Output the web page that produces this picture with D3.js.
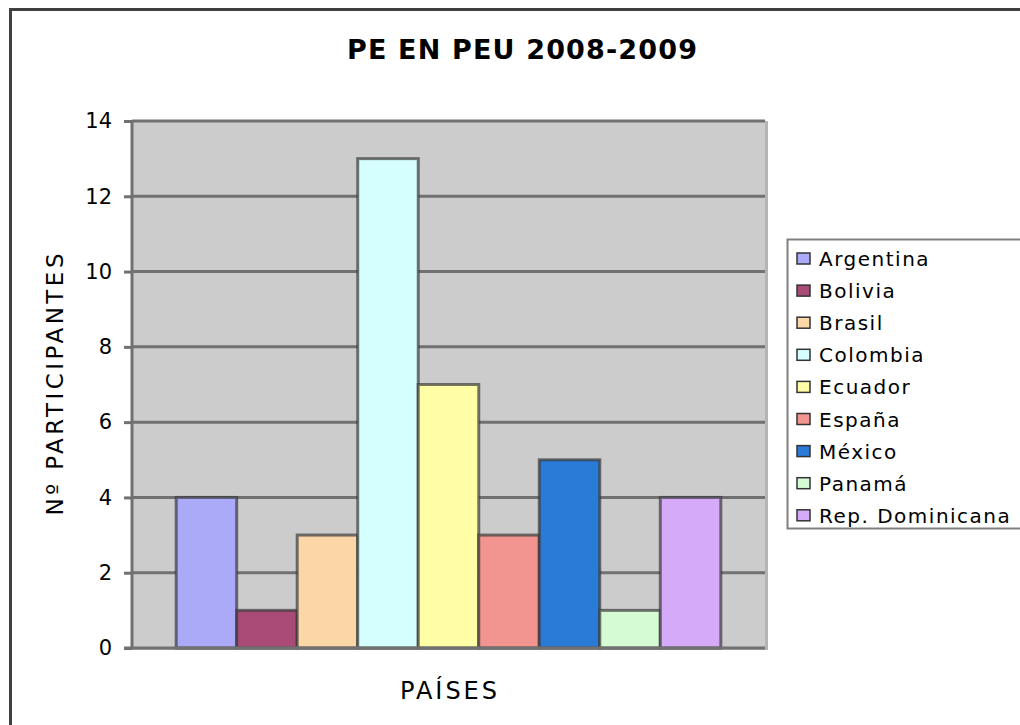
<!DOCTYPE html>
<html>
<head>
<meta charset="utf-8">
<script src="https://cdn.jsdelivr.net/npm/d3@7"></script>
<style>
  body { margin: 0; background: #fff; }
  text { font-family: "DejaVu Sans", Verdana, sans-serif; fill: #000; }
</style>
</head>
<body>
<div id="chart"></div>
<script>
  // data
  const countries = ['Argentina', 'Bolivia', 'Brasil', 'Colombia', 'Ecuador', 'España', 'México', 'Panamá', 'Rep. Dominicana'];
  const participants = [4, 1, 3, 13, 7, 3, 5, 1, 4];
  const colors = ['#aaaaf8', '#a94a77', '#fbd7a7', '#d5ffff', '#fffea6', '#f29590', '#2a7ad8', '#d4fbd4', '#d5aaf8'];
  const yTicks = [0, 2, 4, 6, 8, 10, 12, 14];

  const width = 1020, height = 725;
  const plot = { left: 132, top: 121, right: 765, bottom: 648 };

  const svg = d3.select('#chart')
    .append('svg')
    .attr('width', width)
    .attr('height', height);

  // outer chart border (right and bottom edges fall outside the picture)
  svg.append('rect')
    .attr('x', 10.5).attr('y', 9.5)
    .attr('width', 1100).attr('height', 800)
    .attr('fill', '#fff')
    .attr('stroke', '#404040')
    .attr('stroke-width', 3);

  const y = d3.scaleLinear().domain([0, 14]).range([plot.bottom, plot.top]);
  const x = d3.scaleBand()
    .domain(countries)
    .range([plot.left, plot.right])
    .paddingInner(0)
    .paddingOuter(0.73);

  // plot background with a light shadow on the right
  svg.append('rect')
    .attr('x', plot.left).attr('y', plot.top)
    .attr('width', plot.right - plot.left + 3)
    .attr('height', plot.bottom - plot.top + 2)
    .attr('fill', '#b4b4b4');
  svg.append('rect')
    .attr('x', plot.left).attr('y', plot.top)
    .attr('width', plot.right - plot.left)
    .attr('height', plot.bottom - plot.top)
    .attr('fill', '#cccccc');

  // gridlines
  svg.append('g')
    .selectAll('line')
    .data(yTicks.filter(d => d > 0))
    .join('line')
    .attr('x1', plot.left).attr('x2', plot.right)
    .attr('y1', d => y(d)).attr('y2', d => y(d))
    .attr('stroke', '#717171')
    .attr('stroke-width', 3);

  // y axis
  const yAxis = svg.append('g')
    .attr('transform', `translate(${plot.left},0)`)
    .call(d3.axisLeft(y).tickValues(yTicks).tickSize(8).tickPadding(12));
  yAxis.select('.domain').remove();
  yAxis.selectAll('.tick line').attr('stroke', '#717171').attr('stroke-width', 3);
  yAxis.selectAll('.tick text')
    .attr('font-size', 21)
    .attr('font-family', '"DejaVu Sans", Verdana, sans-serif')
    .attr('fill', '#000');

  // bars
  svg.append('g')
    .selectAll('rect')
    .data(participants)
    .join('rect')
    .attr('x', (d, i) => x(countries[i]))
    .attr('y', d => y(d))
    .attr('width', x.bandwidth())
    .attr('height', d => y(0) - y(d))
    .attr('fill', (d, i) => colors[i])
    .attr('stroke', '#3a3a3a')
    .attr('stroke-opacity', 0.7)
    .attr('stroke-width', 3);

  // axis lines
  svg.append('line')
    .attr('x1', plot.left).attr('x2', plot.left)
    .attr('y1', plot.top).attr('y2', plot.bottom + 1)
    .attr('stroke', '#717171').attr('stroke-width', 3);
  svg.append('line')
    .attr('x1', plot.left - 8).attr('x2', plot.right)
    .attr('y1', plot.bottom).attr('y2', plot.bottom)
    .attr('stroke', '#717171').attr('stroke-width', 3);

  // titles
  svg.append('text')
    .attr('x', 522).attr('y', 59)
    .attr('text-anchor', 'middle')
    .attr('font-size', 27)
    .attr('font-weight', 'bold')
    .attr('textLength', 350)
    .attr('lengthAdjust', 'spacing')
    .text('PE EN PEU 2008-2009');

  svg.append('text')
    .attr('x', (plot.left + plot.right) / 2).attr('y', 699)
    .attr('text-anchor', 'middle')
    .attr('font-size', 24)
    .attr('textLength', 97)
    .attr('lengthAdjust', 'spacing')
    .text('PAÍSES');

  svg.append('text')
    .attr('transform', `translate(63,${(plot.top + plot.bottom) / 2}) rotate(-90)`)
    .attr('text-anchor', 'middle')
    .attr('font-size', 23)
    .attr('textLength', 262)
    .attr('lengthAdjust', 'spacing')
    .text('Nº PARTICIPANTES');

  // legend
  const legend = svg.append('g');
  legend.append('rect')
    .attr('x', 787.5).attr('y', 239.5)
    .attr('width', 300).attr('height', 289)
    .attr('fill', '#fff')
    .attr('stroke', '#808080')
    .attr('stroke-width', 2);

  const item = legend.selectAll('g.item')
    .data(countries)
    .join('g')
    .attr('class', 'item')
    .attr('transform', (d, i) => `translate(0,${266 + i * 32.1})`);

  item.append('rect')
    .attr('x', 797).attr('y', -13)
    .attr('width', 13).attr('height', 11)
    .attr('fill', (d, i) => colors[i])
    .attr('stroke', '#333')
    .attr('stroke-width', 1.5);

  item.append('text')
    .attr('x', 819).attr('y', 0)
    .attr('font-size', 20)
    .attr('letter-spacing', 1.5)
    .text(d => d);
</script>
</body>
</html>
